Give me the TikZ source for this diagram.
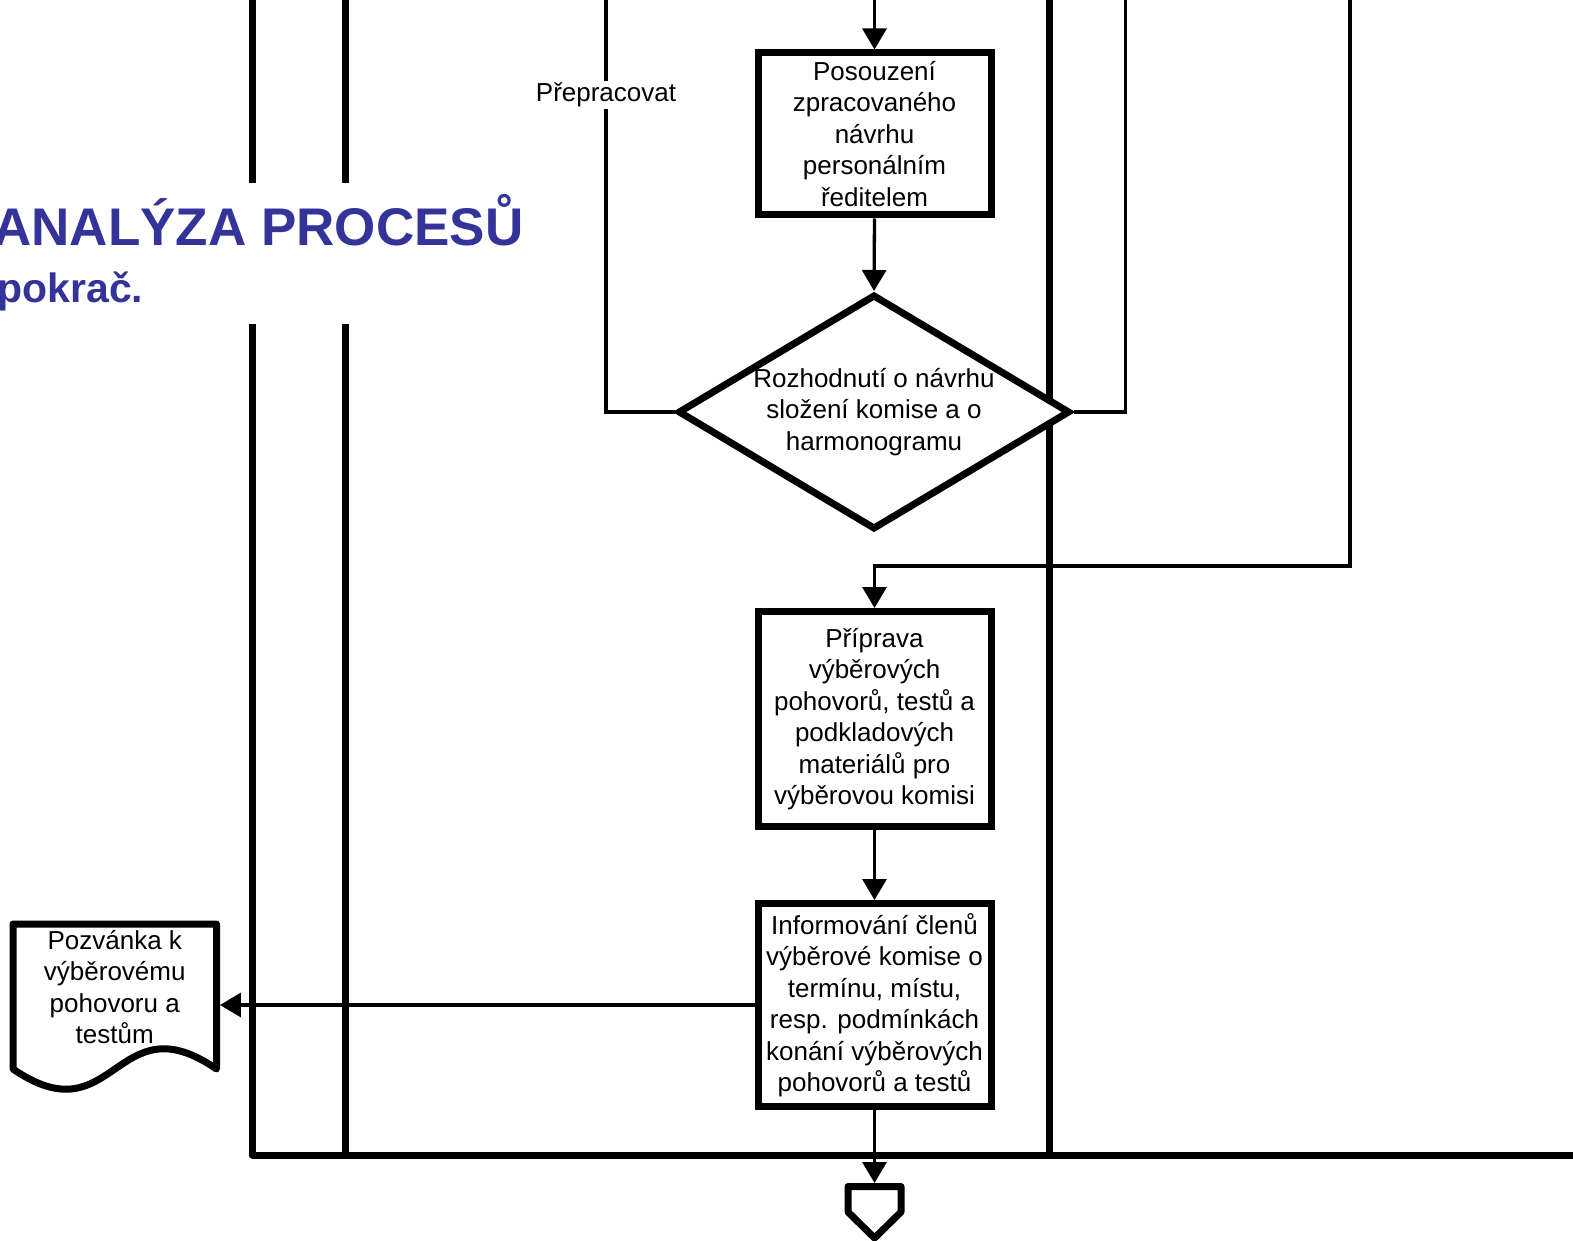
\documentclass[tikz,border=0pt]{standalone}
\usepackage{fontspec}
\setmainfont{Liberation Sans}
\usepackage{xcolor}
\usetikzlibrary{arrows.meta}
\usetikzlibrary{shapes.geometric}
\definecolor{TitleBlue}{RGB}{51,51,153}

\begin{document}
\begin{tikzpicture}[x=1pt, y=-1pt,
        every node/.style={font=\fontsize{26}{31.5}\selectfont},
        activity/.style={draw, line width=7pt, fill=white, minimum width=233pt, align=center, inner sep=0pt},
        decision/.style={diamond, draw, line width=7pt, fill=white, minimum width=392pt, minimum height=235pt, aspect=1.67, align=center, inner sep=0pt},
        flow/.style={line width=3.3pt, -{Triangle[length=21pt, width=24pt]}},
        link/.style={line width=3.3pt},
        lane/.style={line width=7pt, line join=round}]

        \clip (0,0) rectangle (1573,1241);

        \def\laneA{252}
        \def\laneB{345.5}
        \def\laneC{1049}

        % swimlanes
        \draw[lane] (\laneA,-10) -- (\laneA,183);
        \draw[lane] (\laneA,324) -- (\laneA,1155) -- (1590,1155);
        \draw[lane] (\laneB,-10) -- (\laneB,183);
        \draw[lane] (\laneB,324) -- (\laneB,1155);
        \draw[lane] (\laneC,-10) -- (\laneC,1155);

        % title
        \node[anchor=base east, text=TitleBlue, font=\fontsize{53}{60}\selectfont\bfseries] (title) at (527,246) {ANALÝZA PROCESŮ};
        \node[anchor=base west, text=TitleBlue, font=\fontsize{41}{48}\selectfont\bfseries] (subtitle) at (-6,302) {pokrač.};

        % activities
        \node[activity, minimum height=162pt] (review) at (874.5,134) {Posouzení\\zpracovaného\\návrhu\\personálním\\ředitelem};
        \node[decision] (decide) at (874,412) {Rozhodnutí o návrhu\\složení komise a o\\harmonogramu};
        \node[activity, minimum height=215pt] (prepare) at (874.5,719) {Příprava\\výběrových\\pohovorů, testů a\\podkladových\\materiálů pro\\výběrovou komisi};
        \node[activity, minimum height=203pt] (inform) at (874.5,1005) {Informování členů\\výběrové komise o\\termínu, místu,\\resp. podmínkách\\konání výběrových\\pohovorů a testů};

        % document
        \draw[line width=7pt, line join=round] (13,1069) -- (13,924) -- (216.5,924) -- (216.5,1069)
            .. controls (115,999) and (115,1139) .. (13,1069) -- cycle;
        \node[minimum width=210pt, inner sep=0pt, align=center] (invite) at (114.75,987) {Pozvánka k\\výběrovému\\pohovoru a\\testům};

        % off-page connector
        \draw[line width=7pt, line join=round] (848,1186.5) -- (901,1186.5) -- (901,1212) -- (874.5,1238) -- (848,1212) -- cycle;
        \coordinate (next) at (874.5,1183);

        % flow
        \coordinate (above) at (874.5,-10);
        \draw[flow] (above) -- (review.north);
        \draw[flow] (review.south) -- (decide.north);
        \draw[flow] (prepare.south) -- (inform.north);
        \draw[flow] (inform.west) -- (inform.west -| invite.east);
        \draw[flow] (inform.south) -- (next);

        % branches leaving the page
        \coordinate (rework) at (606,-10);
        \coordinate (accept) at (1125.5,-10);
        \coordinate (bypass) at (1350,-10);
        \draw[link] (decide.west) -- (decide.west -| rework) -- (rework);
        \node[fill=white, inner sep=2pt] (reworklabel) at (606,95) {Přepracovat};
        \draw[link] (decide.east) -- (decide.east -| accept) -- (accept);
        \draw[flow] (bypass) -- ++(0,576) -| (prepare.north);
    \end{tikzpicture}
\end{document}
